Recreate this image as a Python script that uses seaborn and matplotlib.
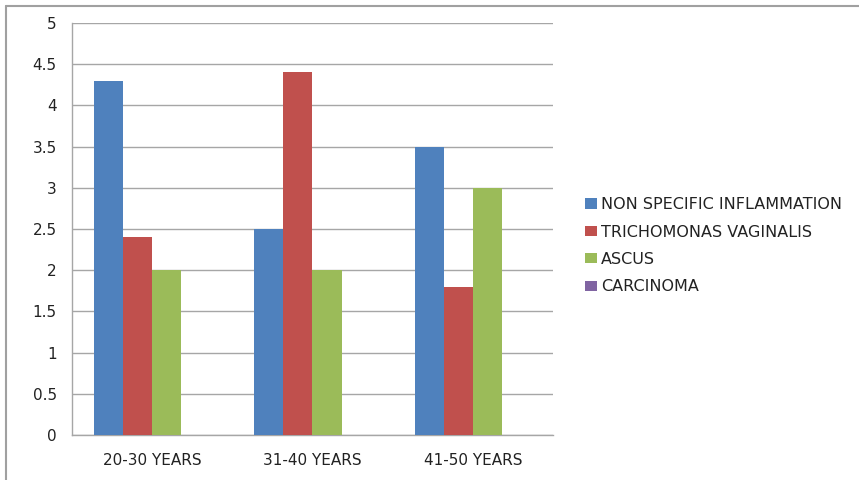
import matplotlib
matplotlib.use("Agg")
import matplotlib.pyplot as plt
from matplotlib.lines import Line2D
import pandas as pd
import seaborn as sns

age_groups = ["20-30 YEARS", "31-40 YEARS", "41-50 YEARS"]
series_names = ["NON SPECIFIC INFLAMMATION", "TRICHOMONAS VAGINALIS", "ASCUS", "CARCINOMA"]
non_specific = [4.3, 2.5, 3.5]
trichomonas = [2.4, 4.4, 1.8]
ascus = [2.0, 2.0, 3.0]
carcinoma = [0.0, 0.0, 0.0]
y_ticks = [0, 0.5, 1, 1.5, 2, 2.5, 3, 3.5, 4, 4.5, 5]
y_tick_labels = ["0", "0.5", "1", "1.5", "2", "2.5", "3", "3.5", "4", "4.5", "5"]

colors = ["#4F81BD", "#C0504D", "#9BBB59", "#8064A2"]

rows = []
for name, vals in zip(series_names, [non_specific, trichomonas, ascus, carcinoma]):
    for grp, v in zip(age_groups, vals):
        rows.append({"group": grp, "series": name, "value": v})
df = pd.DataFrame(rows)

sns.set_style("white")
plt.rcParams["font.family"] = ["DejaVu Sans"]

fig = plt.figure(figsize=(8.59, 4.80), dpi=100)
ax = fig.add_axes([72 / 859, 45 / 480, (553 - 72) / 859, (435 - 23) / 480])

sns.barplot(data=df, x="group", y="value", hue="series", order=age_groups,
            hue_order=series_names, palette=colors, width=0.725, gap=0,
            saturation=1, errorbar=None, linewidth=0, ax=ax, zorder=3)

ax.set_ylim(0, 5)
ax.set_xlim(-0.5, 2.5)
ax.set_yticks(y_ticks)
ax.set_yticklabels(y_tick_labels)
ax.yaxis.grid(True, color="#A6A6A6", linewidth=1)
ax.set_axisbelow(True)
ax.set_xlabel("")
ax.set_ylabel("")

for side in ["top", "right"]:
    ax.spines[side].set_visible(False)
for side in ["left", "bottom"]:
    ax.spines[side].set_color("#A6A6A6")
    ax.spines[side].set_linewidth(1)

ax.tick_params(axis="y", length=5, color="#A6A6A6", labelsize=11, pad=6, labelcolor="#222222")
ax.tick_params(axis="x", which="major", length=0, labelsize=11, pad=13, labelcolor="#222222")
ax.set_xticks([-0.5, 0.5, 1.5, 2.5], minor=True)
ax.tick_params(axis="x", which="minor", length=5, color="#A6A6A6")

handles, labels = ax.get_legend_handles_labels()
ax.legend(handles, labels, loc="center left", bbox_to_anchor=(571 / 859, 0.488),
          bbox_transform=fig.transFigure, frameon=False, fontsize=11.5,
          handlelength=0.7, handleheight=0.6, handletextpad=0.3, labelspacing=0.78,
          labelcolor="#222222")

fig.add_artist(Line2D([6 / 859, 6 / 859], [0, 1 - 6 / 480], transform=fig.transFigure,
                      color="#A0A0A0", linewidth=1.5))
fig.add_artist(Line2D([6 / 859, 1], [1 - 6 / 480, 1 - 6 / 480], transform=fig.transFigure,
                      color="#A0A0A0", linewidth=1.5))

fig.savefig("out.png", dpi=100, facecolor="white")
